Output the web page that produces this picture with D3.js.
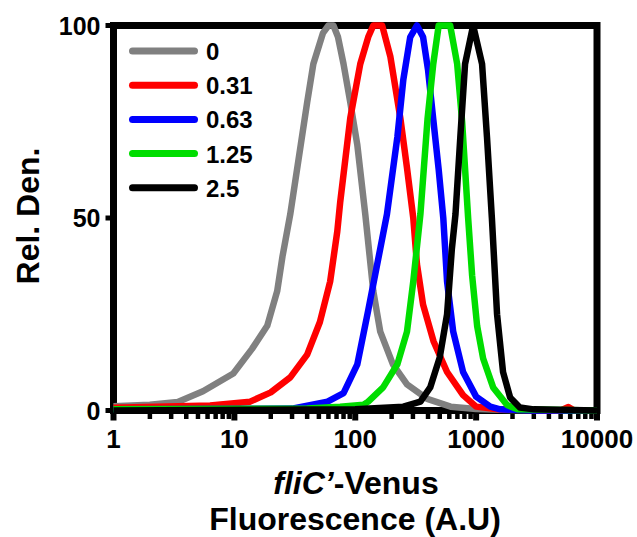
<!DOCTYPE html>
<html>
<head>
<meta charset="utf-8">
<script src="https://cdn.jsdelivr.net/npm/d3@7"></script>
<style>
  html, body { margin: 0; padding: 0; background: #fff; }
  svg { display: block; }
  text { font-family: "Liberation Sans", Arial, Helvetica, sans-serif; font-weight: bold; fill: #000; }
</style>
</head>
<body>
<svg id="chart" width="637" height="537"></svg>
<script>
// Series labels (concentrations) and colours
const seriesNames = ["0", "0.31", "0.63", "1.25", "2.5"];
const seriesColors = ["#808080", "#ff0000", "#0000ff", "#00dd00", "#000000"];

// Relative density histograms: [fluorescence (A.U.), relative density]
const gray = [[1,1.1],[2,1.5],[3.4,2.2],[5.5,5],[9.8,9.6],[14,16],[18.7,22],[22.6,31],[25,40],[29,51],[40,80],[45,90],[54,98],[60,100],[66,100],[72,97],[80,90],[91,80],[104,69],[121,51],[141,31],[161,20.5],[205,12],[268,6.8],[394,3],[615,1],[1000,0.4],[2000,0.1],[10000,0]];
const red = [[1,0.7],[6.3,1.3],[13.5,2.3],[20,4.7],[29,8.6],[40,14.5],[51,23],[62,33.5],[71,46.5],[75,54],[91,76],[110,90],[128,97],[141,100],[167,100],[195,92],[236,76],[268,63],[302,50],[324,38],[364,27.5],[444,18],[575,10],[780,4],[1000,1],[1500,0.3],[5000,0],[5800,0.9],[6500,0],[10000,0]];
const blue = [[1,0.3],[30,0.5],[59,2.3],[80,4.5],[104,12],[128,26],[152,38],[183,51],[223,71],[250,86],[285,97],[324,100],[364,97],[400,88.5],[442,75.6],[490,62.6],[535,50],[575,33.5],[646,20.5],[780,10],[1000,3.6],[1310,1],[1580,0.3],[3000,0],[10000,0]];
const green = [[1,0.3],[40,0.5],[75,1],[117,1.5],[128,2.3],[170,6],[223,12],[268,20.5],[302,33.5],[346,51],[396,75.6],[442,90],[490,100],[610,100],[697,90],[766,75],[859,50],[927,35],[1019,22],[1143,13.5],[1383,6],[1803,1.4],[2200,0.3],[10000,0]];
const black = [[1,0],[100,0.3],[250,1],[346,2.3],[417,6],[500,13.8],[575,25],[630,42],[675,51],[740,71],[810,90],[945,100],[1120,90],[1230,71],[1350,50],[1490,25],[1670,10],[1910,3.4],[2300,0.8],[3000,0.3],[10000,0]];
const seriesData = [gray, red, blue, green, black];

// Axis ticks
const xMajorTicks = [1, 10, 100, 1000, 10000];
const xTickLabels = ["1", "10", "100", "1000", "10000"];
const yTicks = [0, 50, 100];
const yTickLabels = ["0", "50", "100"];

const svg = d3.select("#chart");
const margin = { left: 113.5, right: 40, top: 25.5, bottom: 126.5 };
const W = 637, H = 537;

const x = d3.scaleLog().domain([1, 10000]).range([margin.left, W - margin.right]);
const y = d3.scaleLinear().domain([0, 100]).range([H - margin.bottom, margin.top]);

// Minor ticks 2..9 in each decade
const xMinorTicks = [];
for (let d = 1; d < 10000; d *= 10) for (let k = 2; k <= 9; k++) xMinorTicks.push(d * k);

const axisG = svg.append("g");

// X ticks (outward)
axisG.selectAll("line.xminor").data(xMinorTicks).join("line")
  .attr("x1", d => x(d)).attr("x2", d => x(d))
  .attr("y1", y(0)).attr("y2", y(0) + 8.5)
  .attr("stroke", "#000").attr("stroke-width", 4.5);
axisG.selectAll("line.xmajor").data(xMajorTicks).join("line")
  .attr("x1", d => x(d)).attr("x2", d => x(d))
  .attr("y1", y(0)).attr("y2", y(0) + 10)
  .attr("stroke", "#000").attr("stroke-width", 6);

// Y ticks (outward)
axisG.selectAll("line.ytick").data(yTicks).join("line")
  .attr("x1", x(1) - 8).attr("x2", x(1))
  .attr("y1", d => y(d)).attr("y2", d => y(d))
  .attr("stroke", "#000").attr("stroke-width", 5);

// Frame
axisG.append("rect")
  .attr("x", x(1)).attr("y", y(100))
  .attr("width", x(10000) - x(1)).attr("height", y(0) - y(100))
  .attr("fill", "none").attr("stroke", "#000").attr("stroke-width", 7)
  .attr("stroke-linejoin", "miter");

// Tick labels
axisG.selectAll("text.xlab").data(xMajorTicks).join("text")
  .attr("x", d => x(d)).attr("y", 448)
  .attr("text-anchor", "middle").attr("font-size", 26)
  .text((d, i) => xTickLabels[i]);
axisG.selectAll("text.ylab").data(yTicks).join("text")
  .attr("x", x(1) - 13).attr("y", d => y(d))
  .attr("dy", "0.36em")
  .attr("text-anchor", "end").attr("font-size", 25)
  .text((d, i) => yTickLabels[i]);

// Curves
const line = d3.line().x(d => x(d[0])).y(d => y(d[1]));
svg.append("g").selectAll("path").data(seriesData).join("path")
  .attr("d", line)
  .attr("fill", "none")
  .attr("stroke", (d, i) => seriesColors[i])
  .attr("stroke-width", 6.5)
  .attr("stroke-linejoin", "round");

// Legend
const legend = svg.append("g");
const legY0 = 51, legStep = 34.2;
seriesNames.forEach((name, i) => {
  const ly = legY0 + i * legStep;
  legend.append("line")
    .attr("x1", 132.5).attr("x2", 194.5).attr("y1", ly).attr("y2", ly)
    .attr("stroke", seriesColors[i]).attr("stroke-width", 7)
    .attr("stroke-linecap", "round");
  legend.append("text")
    .attr("x", 206).attr("y", ly + 9)
    .attr("font-size", 24)
    .text(name);
});

// Axis titles
svg.append("text")
  .attr("transform", "translate(39,216) rotate(-90)")
  .attr("text-anchor", "middle").attr("font-size", 32)
  .text("Rel. Den.");

const xt = svg.append("text")
  .attr("x", 356).attr("y", 494)
  .attr("text-anchor", "middle").attr("font-size", 32);
xt.append("tspan").attr("font-style", "italic").text("fliC’");
xt.append("tspan").text("-Venus");

svg.append("text")
  .attr("x", 355).attr("y", 530)
  .attr("text-anchor", "middle").attr("font-size", 32)
  .text("Fluorescence (A.U)");
</script>
</body>
</html>
